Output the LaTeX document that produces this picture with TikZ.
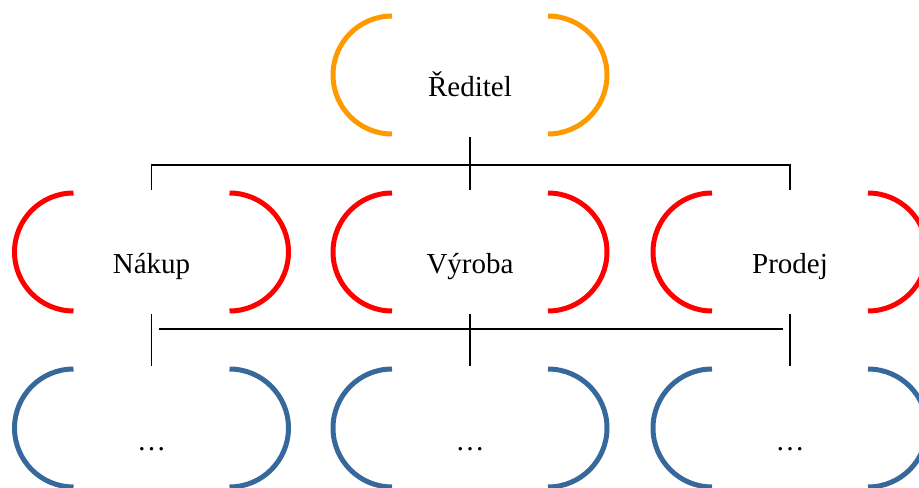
\documentclass[tikz,border=0pt]{standalone}
\usepackage{fontspec}
\setmainfont{Liberation Serif}
\usetikzlibrary{positioning}

\definecolor{lead}{RGB}{255,153,0}
\definecolor{dept}{RGB}{255,0,0}
\definecolor{team}{RGB}{54,104,156}

\tikzset{
	unit/.style={minimum width=5.5cm, minimum height=2.4cm, inner sep=0pt,
		text height=1.2cm, text depth=0.32cm, font=\fontsize{16.5}{18}\selectfont},
	bracket/.style={line width=0.1cm},
	link/.style={line width=0.75pt}
}

\begin{document}
\begin{tikzpicture}

	\useasboundingbox (0,0) rectangle (18.38,-9.76);
	\clip (0,0) rectangle (18.38,-9.76);

	% draw nodes
	\node[unit] (reditel) at (9.4,-1.5) {Ředitel};
	\node[unit] (nakup) at (3.03,-5.04) {Nákup};
	\node[unit] (vyroba) at (9.4,-5.04) {Výroba};
	\node[unit] (prodej) at (15.8,-5.04) {Prodej};
	\foreach \n/\x in {nakup/3.03, vyroba/9.4, prodej/15.8}
	{
		\node[unit] (\n_sub) at (\x,-8.56) {…};
	}

	% draw bracket arcs
	\foreach \n/\c in {reditel/lead, nakup/dept, vyroba/dept, prodej/dept,
		nakup_sub/team, vyroba_sub/team, prodej_sub/team}
	{
		\draw[bracket, \c] ([shift={(-1.56,1.18)}]\n.center) arc[start angle=90, end angle=270, radius=1.18];
		\draw[bracket, \c] ([shift={(1.56,1.18)}]\n.center) arc[start angle=90, end angle=-90, radius=1.18];
	}

	% draw edges
	\coordinate (bar_0) at (9.4,-3.3);
	\coordinate (bar_1) at (9.4,-6.58);
	\draw[link, shorten <=1pt, shorten >=1pt] (reditel.south) -- (vyroba.north);
	\draw[link, shorten <=1pt, shorten >=1pt] (nakup.north) |- (bar_0) -| (prodej.north);
	\foreach \n in {nakup, vyroba, prodej}
	{
		\draw[link, shorten <=1pt, shorten >=1pt] (\n.south) -- (\n_sub.north);
	}
	\draw[link, shorten <=0.14cm, shorten >=0.14cm] (bar_1 -| nakup) -- (bar_1 -| prodej);

\end{tikzpicture}
\end{document}
